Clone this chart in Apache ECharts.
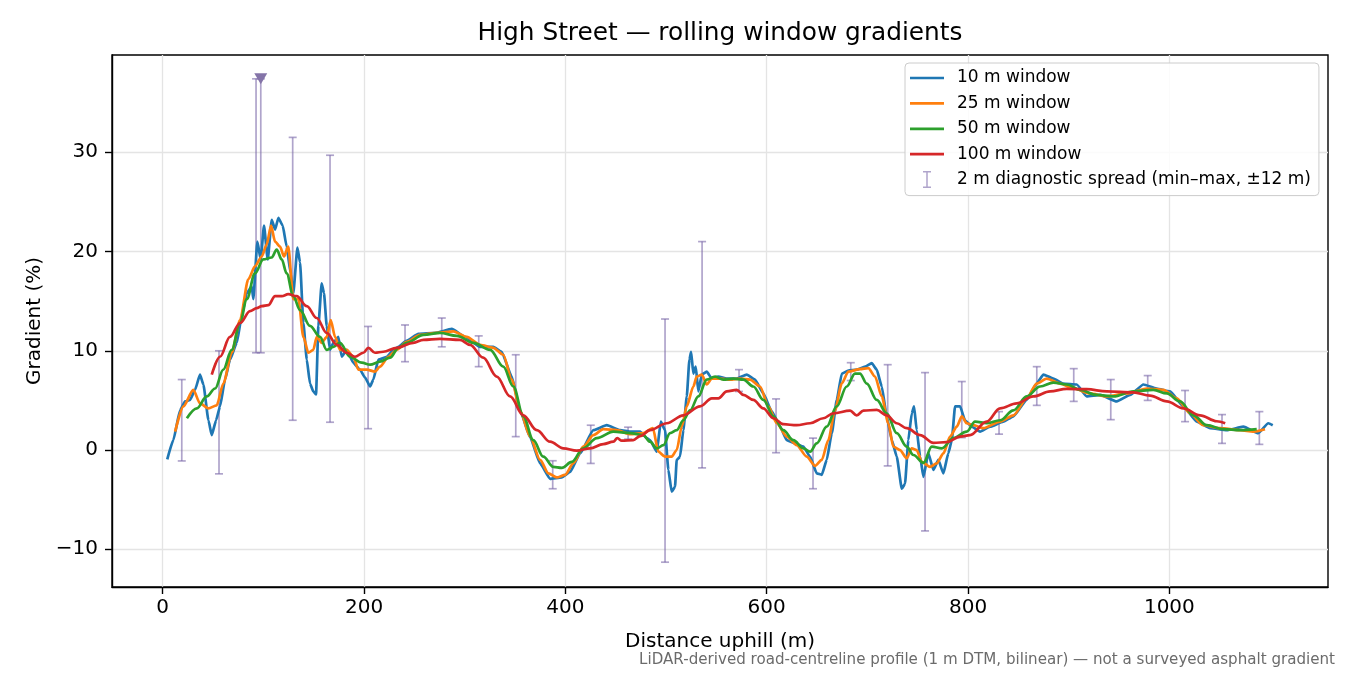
<!DOCTYPE html>
<html>
<head>
<meta charset="utf-8">
<script src="https://cdn.jsdelivr.net/npm/echarts@6/dist/echarts.min.js"></script>
<style>
html,body{margin:0;padding:0;background:#fff;}
#chart{width:1350px;height:675px;}
</style>
</head>
<body>
<div id="chart"></div>
<script>
// ---- data ----
const w10X = [4.5,10.5,17.2,22.2,27.1,32.1,37.0,40.4,45.4,48.7,53.0,56.9,61.9,66.8,73.5,78.5,83.5,88.4,90.0,94.0,97.3,100.6,104.3,108.3,111.6,114.9,119.2,123.1,127.1,129.7,133.8,136.4,139.7,143.1,146.3,149.6,152.3,154.6,157.9,160.2,162.9,166.2,169.5,174.5,177.8,182.8,189.3,195.9,201,206,209.2,214.2,222.6,229.1,234.1,242.1,254,270.5,287.1,300.3,315.3,328.4,336.7,346.7,355,364.9,374.9,384.8,396.4,404.7,414.6,427.8,441.1,454.4,464.3,474.2,480.8,484.1,490.8,494.8,499,502.3,505.6,508.9,510.6,513.9,517.2,520.6,523.2,524.9,527.1,529.5,532.1,535.5,540.4,545.5,552,560.3,570.2,580.2,588.4,596.6,605,613.3,619.9,628.1,636.4,643.1,649.7,654.7,659.6,664.7,669.6,674.6,681.1,689.4,697.7,704.4,709.3,714.3,719.2,724.3,729.2,734.2,737.4,740.7,744.1,746.4,749.0,752.4,755.7,760.6,765.6,770.5,775.5,780.4,783.9,787.1,792.1,797.0,803.7,811.9,821.9,835.1,845.1,858.3,868.2,874.9,884.8,894.7,908.0,917.9,931.2,947.7,961.0,974.2,987.4,1000.7,1013.9,1027.3,1040.4,1057.1,1073.5,1088.4,1098.3,1102.7];
const w10Y = [-0.94,1.0,4.0,4.9,5.05,6.06,7.6,6.6,3.0,1.5,3.0,4.4,7.1,9.1,10.8,13.5,15.8,16.5,15.2,21.0,19.2,22.6,19.2,23.2,22.2,23.4,22.6,20.5,17.8,15.8,20.4,18.9,12.8,9.1,6.7,5.9,5.6,12.5,16.8,15.8,12.5,10.1,10.8,11.4,9.4,10.1,8.8,8.1,7.3,6.4,7.1,9.1,9.4,10.1,10.4,11.0,11.7,11.8,12.2,11.4,10.4,10.4,9.9,7.4,4.0,1.3,-1.35,-2.9,-2.76,-2.2,-0.34,2.0,2.5,2.0,1.85,1.85,1.2,1.0,-0.17,2.86,2.0,-2.0,-4.2,-3.7,-1.0,-0.67,2.0,5.4,9.1,9.9,7.7,8.4,5.9,7.6,7.9,7.2,7.4,7.2,7.2,7.6,7.1,5.7,3.9,2.35,1.0,0.67,0.34,-0.67,-2.35,-2.5,-1.0,1.7,5.05,7.7,8.0,8.1,8.4,8.75,8.1,6.4,3.4,1.0,-0.67,-3.9,-3.4,1.0,3.7,4.4,2.0,-0.67,-2.7,-0.34,-2.0,-1.0,-2.35,-0.34,1.0,4.4,4.4,3.0,2.35,1.85,2.35,2.86,3.4,5.05,6.7,7.6,7.2,6.7,6.6,5.4,5.55,4.9,5.55,6.6,6.2,5.9,4.4,2.86,2.2,2.0,2.35,1.7,2.7,2.5];

const w25X = [12.3,20.5,30.4,37.0,45.4,53.6,60.2,68.5,76.8,85.0,91.6,98.3,103.2,107.6,111.6,116.5,120.5,124.7,129.7,134.8,139.7,144.7,149.6,153.0,157.9,162.9,166.9,171.2,176.1,182.8,189.3,194.4,202.7,210.9,215.8,224.2,232.5,242.4,255.6,272.1,288.7,302,315.3,328.4,338.3,346.7,355,364.9,374.9,383.1,391.4,399.7,407.9,417.8,427.8,437.7,451.1,464.3,477.4,486.9,492.4,499,505.6,510.6,515.6,520.6,527.1,530.5,535.5,540.4,545.5,553.7,563.6,573.5,583.5,593.4,601.6,610,619.9,629.8,639.8,648,654.7,661.2,667.8,674.6,681.1,692.6,701,707.6,714.3,720.8,725.8,732.5,739.1,744.1,749.0,754.1,762.3,768.9,775.5,782.2,788.8,793.8,798.7,805.3,815.3,831.8,845.1,858.3,868.2,878.2,891.4,904.7,921.2,937.8,957.7,977.5,994.1,1007.3,1020.6,1033.8,1050.3,1070.2,1083.5,1095];
const w25Y = [1.85,4.4,6.06,4.7,4.2,4.5,6.7,9.8,13.1,17.2,18.5,19.5,20.7,22.6,21.0,20.5,19.5,20.5,15.2,15.2,11.4,9.8,10.1,11.4,10.8,11.4,13.1,11.4,10.1,10.1,9.4,8.1,8.1,7.9,8.4,9.4,10.1,10.9,11.6,11.8,11.95,11.4,10.6,10.3,9.6,7.1,4.0,1.35,-1.0,-2.35,-2.76,-2.5,-1.35,0.34,1.5,2.1,2.0,1.6,1.7,2.2,-0.17,-0.67,-0.67,0.0,2.35,4.4,6.4,7.4,7.6,6.6,7.2,7.2,7.1,7.2,7.1,6.4,4.4,2.7,1.35,0.5,-0.67,-1.6,-1.0,1.0,4.0,6.7,7.9,8.15,8.25,7.4,5.4,2.7,0.34,0.0,-0.84,0.17,0.0,-1.2,-1.7,-1.35,-0.34,1.35,2.35,3.4,2.7,2.5,2.2,2.86,3.5,5.2,6.7,7.2,6.7,6.2,5.7,5.4,5.7,6.2,6.06,5.2,3.7,2.5,2.2,2.0,1.85,2.1];

const w50X = [24.0,33.9,43.7,52.0,60.2,68.5,76.8,83.5,91.6,99.9,108.3,113.2,118.2,123.1,129.7,136.4,146.3,156.2,162.9,169.5,176.1,186.0,197.7,206,215.8,225.8,234.1,242.4,258.9,275.4,292.1,308.5,325.2,338.3,348.3,358.2,368.1,378.1,388.0,396.4,406.3,417.8,431.2,447.7,464.3,477.4,484.1,490.8,497.4,504,510.6,517.2,523.9,532.1,540.4,548.7,556.9,566.8,576.8,586.7,596.6,606.7,616.5,626.5,636.4,643.1,649.7,659.6,669.6,679.5,687.7,692.6,699.4,709.3,719.2,729.2,739.1,745.7,755.7,764,773.9,785.4,798.7,807,818.5,831.8,845.1,858.3,871.6,884.8,898.0,911.3,927.8,944.4,964.3,984.1,997.5,1010.6,1023.9,1037.2,1053.7,1070.2,1086.8];
const w50Y = [3.2,4.2,5.4,6.2,8.1,10.1,12.8,15.2,17.8,19.2,19.4,20.2,19.2,17.8,15.5,14.1,12.5,11.4,10.1,10.4,10.8,9.4,8.8,8.6,8.9,9.3,10.3,10.8,11.6,11.8,11.5,10.8,10.1,8.4,6.4,3.4,1.0,-0.67,-1.7,-1.8,-1.2,0.17,1.2,1.85,1.7,1.5,0.84,0.17,0.5,1.7,2.0,3.0,4.0,5.4,7.1,7.4,7.1,7.2,7.1,6.4,5.05,3.4,2.0,1.0,0.17,-0.17,0.67,2.35,4.4,6.4,7.7,7.7,6.7,5.05,3.7,1.7,0.34,-0.5,-1.3,0.34,0.17,1.2,1.85,2.86,2.7,3.0,4.0,5.4,6.4,6.8,6.6,6.06,5.55,5.4,5.9,6.06,5.7,4.9,3.5,2.5,2.1,2.0,2.1];

const w100X = [48.7,56.9,66.8,76.8,86.7,93.4,98.3,104.9,111.6,118.2,124.7,133.1,143.1,153.0,162.9,172.9,182.8,191.0,199.3,204.3,210.9,219.1,232.5,248.9,258.9,275.4,295.3,305.3,318.4,331.8,345.1,358.2,371.6,384.8,398,411.3,424.5,437.7,447.7,451.6,456.0,467.5,474.2,484.1,500.7,517.2,533.8,545.5,552,560.3,570.2,576.8,586.7,596.6,606.7,616.5,629.8,643.1,656.2,666.2,682.8,689.4,696.1,709.3,719.2,729.2,739.1,752.4,765.6,778.8,792.1,802,818.5,831.8,848.4,864.9,881.5,898,917.9,937.8,964.3,980.8,997.5,1013.9,1030.5,1047.1,1055.5];
const w100Y = [7.6,9.4,11.4,12.8,14.0,14.3,14.5,14.6,15.5,15.5,15.7,15.5,14.5,13.3,11.8,10.6,9.8,9.4,9.8,10.3,9.8,9.9,10.3,10.8,11.1,11.2,11.1,10.6,9.3,7.4,5.4,3.5,2.0,0.84,0.17,-0.07,0.17,0.6,0.84,1.2,0.94,1.0,1.4,2.0,2.7,3.5,4.4,5.2,5.2,5.9,6.06,5.55,5.05,4.2,3.2,2.6,2.5,2.7,3.2,3.7,3.97,3.5,3.97,4.04,3.5,2.7,2.2,1.5,0.72,0.8,1.35,1.5,2.86,4.2,4.7,5.4,5.9,6.16,6.13,5.9,5.8,5.48,4.9,4.2,3.5,2.9,2.7];

// 2 m diagnostic spread (min–max) error bars
const errX  = [18.9,55.9,92.7,97.4,129.1,166.2,204.0,240.7,277.2,313.9,350.7,387.4,425.2,462.3,499.0,535.8,572.5,609.3,646.0,683.5,720.2,757.3,793.8,830.8,868.3,905.0,941.8,978.5,1015.6,1052.3,1089.4];
const errLo = [-1.1,-2.4,9.8,9.8,3.0,2.8,2.15,8.9,10.4,8.4,1.35,-3.9,-1.35,1.1,-11.3,-1.8,5.9,-0.27,-3.9,7.0,-1.6,-8.15,1.25,1.6,4.5,4.9,3.06,5.0,2.86,0.67,0.57];
const errHi = [7.1,10.0,37.4,37.4,31.5,29.7,12.45,12.6,13.3,11.5,9.6,-1.08,2.5,2.3,13.2,21.0,8.1,5.15,1.2,8.8,8.6,7.8,6.9,3.87,8.4,8.2,7.1,7.5,6.0,3.57,3.87];

// value clipped at top of axis
const clipX = [97.4];
const clipY = [37.4];

const seriesNames = ['10 m window','25 m window','50 m window','100 m window','2 m diagnostic spread (min\u2013max, \u00b112 m)'];
const xTicks = [0,200,400,600,800,1000];
const yTicks = [-10,0,10,20,30];

// ---- chart ----
const FONT = 'DejaVu Sans';
const pairs = (xs, ys) => xs.map((x, i) => [x, ys[i]]);
const errColor = 'rgba(118,98,165,0.58)';
const LW = 2.7;

const chart = echarts.init(document.getElementById('chart'), null, {renderer: 'canvas'});

function lineSeries(name, xs, ys, color, smooth) {
  return {
    type: 'line', name: name, data: pairs(xs, ys),
    symbol: 'none', showSymbol: false, smooth: smooth, smoothMonotone: 'x',
    lineStyle: {color: color, width: LW}, itemStyle: {color: color},
    emphasis: {disabled: true}, z: 3
  };
}

const lineIcon = 'path://M0,0H34V' + LW + 'H0Z';

const option = {
  animation: false,
  backgroundColor: '#fff',
  textStyle: {fontFamily: FONT},
  grid: {left: 112, right: 22, top: 55, bottom: 88, show: true, borderColor: '#000', borderWidth: 1.4, backgroundColor: 'transparent'},
  xAxis: {
    type: 'value', min: -50.4, max: 1157.6, splitNumber: 6,
    axisLine: {show: true, onZero: false, lineStyle: {color: '#000', width: 1.4}},
    axisTick: {show: true, length: 7, customValues: xTicks, lineStyle: {color: '#000', width: 1.4}},
    axisLabel: {margin: 11, fontSize: 20, color: '#000', fontFamily: FONT, customValues: xTicks,
      formatter: v => String(Math.round(v))},
    splitLine: {show: true, lineStyle: {color: '#e4e4e4', width: 1.3}},
    name: 'Distance uphill (m)', nameLocation: 'middle', nameGap: 45,
    nameTextStyle: {fontSize: 20, color: '#000', fontFamily: FONT}
  },
  yAxis: {
    type: 'value', min: -13.8, max: 39.8, splitNumber: 5,
    axisLine: {show: true, onZero: false, lineStyle: {color: '#000', width: 1.4}},
    axisTick: {show: true, length: 7, customValues: yTicks, lineStyle: {color: '#000', width: 1.4}},
    axisLabel: {margin: 14, fontSize: 20, color: '#000', fontFamily: FONT, customValues: yTicks,
      formatter: v => {
        const r = Math.round(v);
        return r < 0 ? '\u2212' + Math.abs(r) : String(r);
      }},
    splitLine: {show: true, lineStyle: {color: '#e4e4e4', width: 1.3}},
    name: 'Gradient (%)', nameLocation: 'middle', nameGap: 66, nameRotate: 90,
    nameTextStyle: {fontSize: 20, color: '#000', fontFamily: FONT}
  },
  legend: {
    show: true, orient: 'vertical', left: 905, top: 63, align: 'left',
    itemWidth: 34, itemHeight: 17, itemGap: 7.4,
    padding: [6, 8, 7, 5],
    backgroundColor: 'rgba(255,255,255,0.85)', borderColor: '#cccccc', borderWidth: 1, borderRadius: 4,
    textStyle: {fontSize: 17, color: '#000', fontFamily: FONT, lineHeight: 18, padding: [0, 0, 0, 8]},
    data: [
      {name: seriesNames[0], icon: lineIcon}, {name: seriesNames[1], icon: lineIcon},
      {name: seriesNames[2], icon: lineIcon}, {name: seriesNames[3], icon: lineIcon},
      {name: seriesNames[4], icon: 'path://M0,0H8V1.5H4.75V15.5H8V17H0V15.5H3.25V1.5H0Z', itemStyle: {color: errColor}}
    ],
    selectedMode: false
  },
  graphic: [
    {type: 'text', x: 720, y: 34, style: {text: 'High Street \u2014 rolling window gradients', fontSize: 24.8, fontFamily: FONT, fill: '#000', textAlign: 'center', textVerticalAlign: 'middle'}},
    {type: 'text', x: 1335, y: 660, style: {text: 'LiDAR-derived road-centreline profile (1 m DTM, bilinear) \u2014 not a surveyed asphalt gradient', fontSize: 15.1, fontFamily: FONT, fill: '#6b6b6b', textAlign: 'right', textVerticalAlign: 'middle'}}
  ],
  series: [
    {
      type: 'custom', name: seriesNames[4],
      data: errX.map((x, i) => [x, errLo[i], errHi[i]]),
      itemStyle: {color: errColor},
      encode: {x: 0, y: [1, 2]},
      z: 2,
      renderItem: function (params, api) {
        const x = api.value(0);
        const lo = api.coord([x, api.value(1)]);
        const hi = api.coord([x, api.value(2)]);
        const cw = 4;
        const st = {stroke: errColor, lineWidth: 1.7, fill: null};
        return {
          type: 'group',
          children: [
            {type: 'line', shape: {x1: lo[0], y1: lo[1], x2: hi[0], y2: hi[1]}, style: st},
            {type: 'line', shape: {x1: lo[0] - cw, y1: lo[1], x2: lo[0] + cw, y2: lo[1]}, style: st},
            {type: 'line', shape: {x1: hi[0] - cw, y1: hi[1], x2: hi[0] + cw, y2: hi[1]}, style: st}
          ]
        };
      }
    },
    lineSeries(seriesNames[0], w10X, w10Y, '#1f77b4', 0.15),
    lineSeries(seriesNames[1], w25X, w25Y, '#ff7f0e', 0.25),
    lineSeries(seriesNames[2], w50X, w50Y, '#2ca02c', 0.35),
    lineSeries(seriesNames[3], w100X, w100Y, '#d62728', 0.35),
    {
      type: 'scatter', name: 'clipped', data: pairs(clipX, clipY),
      symbol: 'triangle', symbolRotate: 180, symbolSize: [13, 11],
      itemStyle: {color: '#8474a8', opacity: 1}, z: 5, emphasis: {disabled: true}
    }
  ]
};
chart.setOption(option);
</script>
</body>
</html>
